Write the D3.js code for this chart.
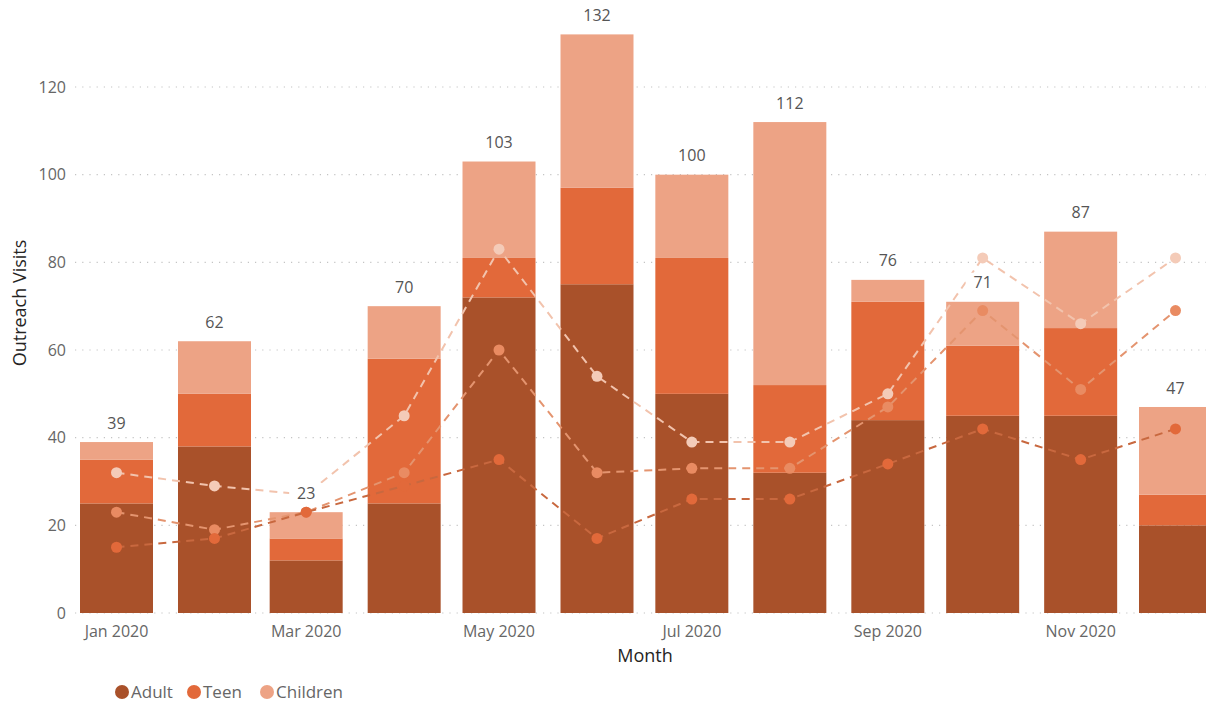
<!DOCTYPE html>
<html>
<head>
<meta charset="utf-8">
<script src="https://cdn.jsdelivr.net/npm/d3@7"></script>
<style>
  body { margin: 0; background: #fff; }
  svg { display: block; }
  text { font-family: "Open Sans", "Noto Sans", sans-serif; }
</style>
</head>
<body>
<svg width="1206" height="705"></svg>
<script>
const months = ["2020-01", "2020-02", "2020-03", "2020-04", "2020-05", "2020-06",
                "2020-07", "2020-08", "2020-09", "2020-10", "2020-11", "2020-12"];
const adult    = [25, 38, 12, 25, 72, 75, 50, 32, 44, 45, 45, 20];
const teen     = [10, 12,  5, 33,  9, 22, 31, 20, 27, 16, 20,  7];
const children = [ 4, 12,  6, 12, 22, 35, 19, 60,  5, 10, 22, 20];
// the three dashed trend lines
const lineLow  = [15, 17, 23, 29, 35, 17, 26, 26, 34, 42, 35, 42];
const lineMid  = [23, 19, 23, 32, 60, 32, 33, 33, 47, 69, 51, 69];
const lineHigh = [32, 29, 27, 45, 83, 54, 39, 39, 50, 81, 66, 81];
const yTicks = [0, 20, 40, 60, 80, 100, 120];
const seriesNames = ["Adult", "Teen", "Children"];
const colors = ["#a9512a", "#e2693a", "#eda385"];

const svg = d3.select("svg"),
      width = +svg.attr("width"),
      height = +svg.attr("height");

const parse = d3.timeParse("%Y-%m");
const fmt = d3.timeFormat("%b %Y");
const rows = months.map((m, i) => ({
  date: parse(m), Adult: adult[i], Teen: teen[i], Children: children[i],
  total: adult[i] + teen[i] + children[i]
}));

const x = d3.scaleTime()
    .domain([parse("2020-01"), parse("2020-12")])
    .range([116.5, 1175.5]);
const y = d3.scaleLinear().domain([0, 120]).range([613, 87]);
const barW = 73;

// gridlines
svg.append("g")
    .selectAll("line")
    .data(yTicks)
    .enter().append("line")
    .attr("x1", 75).attr("x2", width)
    .attr("y1", d => y(d)).attr("y2", d => y(d))
    .attr("stroke", "#c4c4c4")
    .attr("stroke-width", 1.2)
    .attr("stroke-dasharray", "1.2,6");

// y tick labels
svg.append("g")
    .selectAll("text")
    .data(yTicks)
    .enter().append("text")
    .attr("x", 66).attr("y", d => y(d))
    .attr("dy", "0.35em")
    .attr("text-anchor", "end")
    .attr("font-size", 16)
    .attr("fill", "#666")
    .text(d => d);

// stacked bars
const stack = d3.stack().keys(seriesNames)(rows);
svg.append("g")
    .selectAll("g")
    .data(stack)
    .enter().append("g")
    .attr("fill", (d, i) => colors[i])
    .selectAll("rect")
    .data(d => d)
    .enter().append("rect")
    .attr("x", d => x(d.data.date) - barW / 2)
    .attr("width", barW)
    .attr("y", d => y(d[1]))
    .attr("height", d => y(d[0]) - y(d[1]));

// dashed lines with dots
const lineSets = [
  { values: lineHigh, stroke: "#f2c3ad", dot: "#f4cbb8" },
  { values: lineMid,  stroke: "#e4946f", dot: "#e98b62" },
  { values: lineLow,  stroke: "#c8683f", dot: "#e2693a" }
];
const line = d3.line()
    .x((d, i) => x(rows[i].date))
    .y(d => y(d));

lineSets.forEach(s => {
  const g = svg.append("g");
  g.append("path")
      .datum(s.values)
      .attr("d", line)
      .attr("fill", "none")
      .attr("stroke", s.stroke)
      .attr("stroke-width", 2)
      .attr("stroke-dasharray", "8,6");
  g.selectAll("circle")
      .data(s.values)
      .enter().append("circle")
      .attr("cx", (d, i) => x(rows[i].date))
      .attr("cy", d => y(d))
      .attr("r", 5.5)
      .attr("fill", s.dot);
});

// total labels
const labels = svg.append("g")
    .selectAll("g")
    .data(rows)
    .enter().append("g")
    .attr("transform", d => `translate(${x(d.date)},${y(d.total) - 19})`);
labels.append("rect")
    .attr("x", -17).attr("y", -10)
    .attr("width", 34).attr("height", 20)
    .attr("fill", "#fff");
labels.append("text")
    .attr("dy", "0.35em")
    .attr("text-anchor", "middle")
    .attr("font-size", 16)
    .attr("fill", "#555")
    .text(d => d.total);

// x tick labels (every other month)
svg.append("g")
    .selectAll("text")
    .data(rows.filter((d, i) => i % 2 === 0))
    .enter().append("text")
    .attr("x", d => x(d.date))
    .attr("y", 631)
    .attr("dy", "0.35em")
    .attr("text-anchor", "middle")
    .attr("font-size", 16)
    .attr("fill", "#666")
    .text(d => fmt(d.date));

// axis titles
svg.append("text")
    .attr("x", 645).attr("y", 656)
    .attr("dy", "0.35em")
    .attr("text-anchor", "middle")
    .attr("font-family", "Roboto, sans-serif")
    .attr("font-size", 18)
    .attr("font-weight", 500)
    .attr("fill", "#252423")
    .text("Month");

svg.append("text")
    .attr("transform", "translate(20,303) rotate(-90)")
    .attr("dy", "0.35em")
    .attr("text-anchor", "middle")
    .attr("font-family", "Roboto, sans-serif")
    .attr("font-size", 18)
    .attr("font-weight", 500)
    .attr("fill", "#252423")
    .text("Outreach Visits");

// legend
const legendX = [122, 194, 267];
const legend = svg.append("g")
    .selectAll("g")
    .data(seriesNames)
    .enter().append("g")
    .attr("transform", (d, i) => `translate(${legendX[i]},692)`);
legend.append("circle")
    .attr("r", 7)
    .attr("fill", (d, i) => colors[i]);
legend.append("text")
    .attr("x", 9)
    .attr("dy", "0.35em")
    .attr("font-size", 17)
    .attr("fill", "#666")
    .text(d => d);
</script>
</body>
</html>
